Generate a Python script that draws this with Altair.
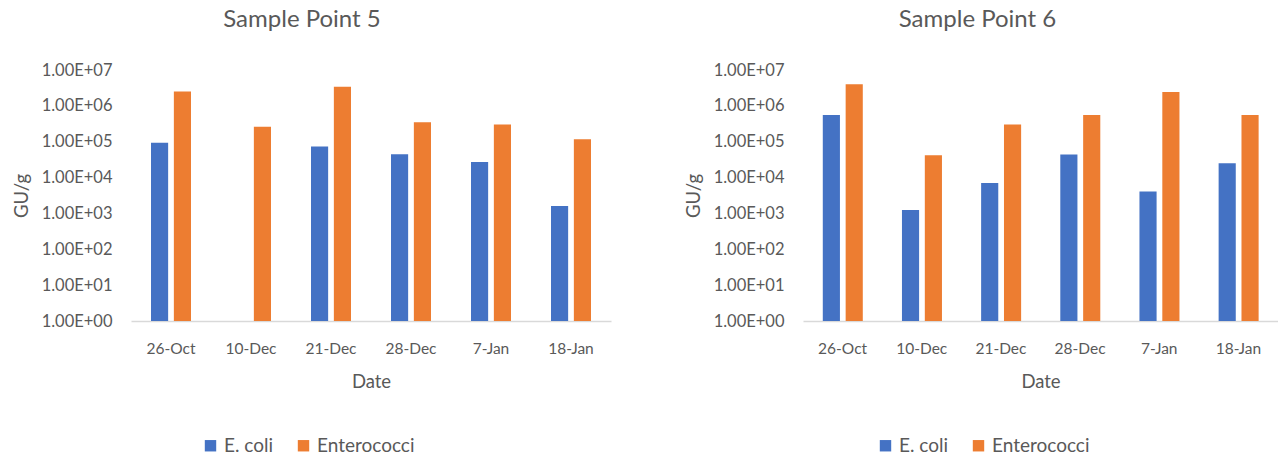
import altair as alt
import pandas as pd

# Sampling dates and the two indicator organisms
dates = ["26-Oct", "10-Dec", "21-Dec", "28-Dec", "7-Jan", "18-Jan"]
organisms = ["E. coli", "Enterococci"]

# Gene units per gram, Sample Point 5 (no E. coli result on 10-Dec)
sp5_ecoli = [9.4e4, None, 7.3e4, 4.5e4, 2.7e4, 1.6e3]
sp5_entero = [2.5e6, 2.6e5, 3.4e6, 3.5e5, 3.0e5, 1.18e5]

# Gene units per gram, Sample Point 6
sp6_ecoli = [5.6e5, 1.25e3, 7.1e3, 4.4e4, 4.1e3, 2.5e4]
sp6_entero = [4.0e6, 4.2e4, 3.0e5, 5.6e5, 2.45e6, 5.6e5]

y_ticks = [1, 10, 100, 1e3, 1e4, 1e5, 1e6, 1e7]

BLUE = "#4472C4"
ORANGE = "#ED7D31"
TEXT = "#595959"
FONT = "Lato"


def frame(ecoli, entero):
    rows = []
    for d, e, n in zip(dates, ecoli, entero):
        if e is not None:
            rows.append({"Date": d, "Organism": "E. coli", "GU": e})
        if n is not None:
            rows.append({"Date": d, "Organism": "Enterococci", "GU": n})
    return pd.DataFrame(rows)


def panel(df, title, width, title_dx, legend_x):
    return (
        alt.Chart(df)
        .mark_bar()
        .encode(
            x=alt.X(
                "Date:N",
                sort=dates,
                scale=alt.Scale(paddingInner=0.5, paddingOuter=0.25),
                axis=alt.Axis(
                    title="Date",
                    labelAngle=0,
                    ticks=False,
                    domainColor="#D9D9D9",
                    domainWidth=1.5,
                    labelPadding=20,
                    titlePadding=16,
                ),
            ),
            xOffset=alt.XOffset(
                "Organism:N",
                sort=organisms,
                scale=alt.Scale(paddingInner=0.25, paddingOuter=0),
            ),
            y=alt.Y(
                "GU:Q",
                stack=None,
                scale=alt.Scale(type="log", domain=[1, 1e7]),
                axis=alt.Axis(
                    title="GU/g",
                    values=y_ticks,
                    labelExpr="'1.00E+0' + round(log(datum.value) / LN10)",
                    domain=False,
                    ticks=False,
                    grid=False,
                    labelPadding=19,
                    titlePadding=10,
                ),
            ),
            color=alt.Color(
                "Organism:N",
                sort=organisms,
                scale=alt.Scale(domain=organisms, range=[BLUE, ORANGE]),
                legend=alt.Legend(
                    title=None,
                    orient="none",
                    direction="horizontal",
                    legendX=legend_x,
                    legendY=366,
                    symbolType="square",
                    symbolSize=130,
                    symbolStrokeWidth=0,
                    labelOffset=4,
                    columnPadding=20,
                    labelFontSize=19,
                ),
            ),
        )
        .properties(
            width=width,
            height=251,
            title=alt.TitleParams(
                title, anchor="middle", frame="group", dx=title_dx, offset=30
            ),
        )
    )


left = panel(frame(sp5_ecoli, sp5_entero), "Sample Point 5", 480, -69, 70)
right = panel(frame(sp6_ecoli, sp6_entero), "Sample Point 6", 475, -63, 73)

chart = (
    alt.hconcat(left, right, spacing=73)
    .resolve_scale(color="independent")
    .resolve_legend(color="independent")
    .properties(padding={"left": 12, "top": 8, "right": 0, "bottom": 0})
    .configure(font=FONT)
    .configure_view(stroke=None)
    .configure_axis(
        labelFont=FONT,
        titleFont=FONT,
        labelColor=TEXT,
        titleColor=TEXT,
        labelFontSize=16.5,
        titleFontSize=18.5,
        titleFontWeight="normal",
    )
    .configure_axisX(labelFontSize=15.5)
    .configure_legend(labelFont=FONT, labelColor=TEXT)
    .configure_title(font=FONT, fontSize=24, fontWeight="normal", color=TEXT)
)

chart.save("out.html", embed_options={"renderer": "svg", "actions": False})
